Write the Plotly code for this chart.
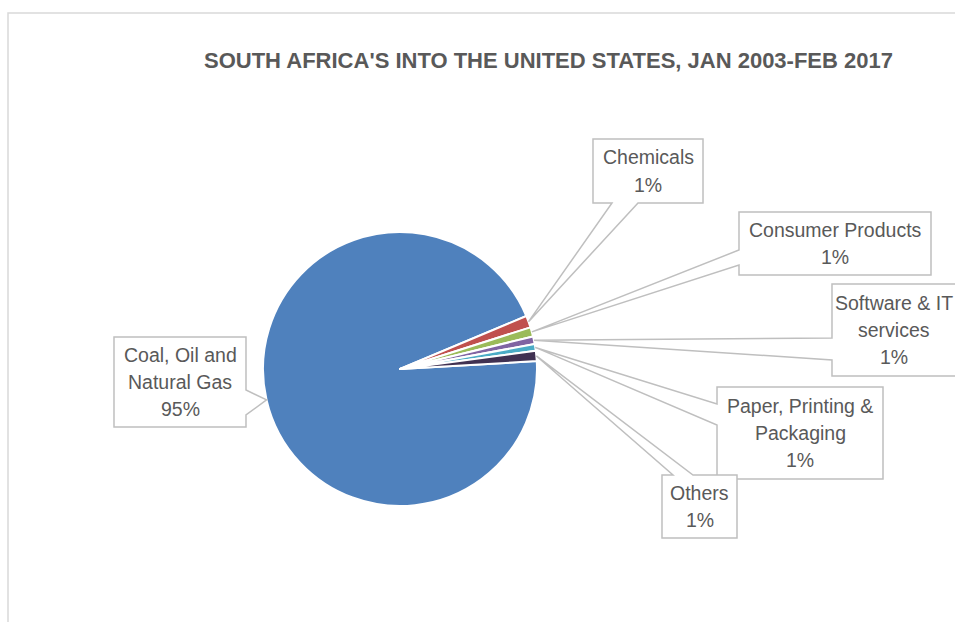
import math
import plotly.graph_objects as go

# Sector shares of South Africa's investment into the United States (%)
sectors = ["Coal, Oil and Natural Gas", "Chemicals", "Consumer Products",
           "Software & IT services", "Paper, Printing & Packaging", "Others"]
shares = [94.6, 1.4, 1.1, 0.9, 0.8, 1.2]
label_lines = [["Coal, Oil and", "Natural Gas"], ["Chemicals"], ["Consumer Products"],
               ["Software & IT", "services"], ["Paper, Printing &", "Packaging"], ["Others"]]
colors = ["#4F81BD", "#C0504D", "#9BBB59", "#8064A2", "#4BACC6", "#403152"]
title = "SOUTH AFRICA'S INTO THE UNITED STATES, JAN 2003-FEB 2017"

# Canvas / layout geometry (pixels)
W, H = 955, 622
CX, CY, R = 400, 369, 137          # pie centre and radius
ROTATION = 86.7                    # start angle of first slice, clockwise from 12 o'clock
TEXT = "#595959"
EDGE = "#BFBFBF"
FONT = "Liberation Sans, Arial, sans-serif"
LINE_GAP = 27                      # label line spacing

# callout boxes: (x0, y0, x1, y1), side carrying the pointer, pointer base span,
# horizontal centre of the text
callouts = [
    ((114, 337, 246, 427), "right", (390, 415), 180),
    ((593, 139, 703, 203), "bottom", (612, 638), 648),
    ((739, 212, 931, 275), "left", (250, 265), 835),
    ((832, 284, 970, 376), "left", (338, 360), 894),
    ((717, 387, 883, 479), "left", (404, 425), 800),
    ((662, 475, 737, 538), "top", (673, 693), 699.5),
]


def px(x):
    return x / W


def py(y):
    return 1 - y / H


def slice_tips():
    total = sum(shares)
    tips, start = [], ROTATION
    for v in shares:
        span = 360 * v / total
        mid = math.radians(start + span / 2)
        tips.append((CX + R * math.sin(mid), CY - R * math.cos(mid)))
        start += span
    return tips


def callout_path(box, side, base, tip):
    x0, y0, x1, y1 = box
    b0, b1 = base
    if side == "left":
        pts = [(x0, y0), (x1, y0), (x1, y1), (x0, y1), (x0, b1), tip, (x0, b0)]
    elif side == "right":
        pts = [(x0, y0), (x1, y0), (x1, b0), tip, (x1, b1), (x1, y1), (x0, y1)]
    elif side == "bottom":
        pts = [(x0, y0), (x1, y0), (x1, y1), (b1, y1), tip, (b0, y1), (x0, y1)]
    else:
        pts = [(x0, y0), (b0, y0), tip, (b1, y0), (x1, y0), (x1, y1), (x0, y1)]
    return "M " + " L ".join(f"{px(a):.5f},{py(b):.5f}" for a, b in pts) + " Z"


fig = go.Figure(go.Pie(
    labels=sectors,
    values=shares,
    sort=False,
    direction="clockwise",
    rotation=ROTATION,
    marker=dict(colors=colors, line=dict(color="white", width=2)),
    textinfo="none",
    hoverinfo="label+percent",
    showlegend=False,
    domain=dict(x=[px(CX - R), px(CX + R)], y=[py(CY + R), py(CY - R)]),
))

shapes = [dict(type="rect", xref="paper", yref="paper",
               x0=px(8), x1=px(W + 20), y0=py(H + 20), y1=py(13),
               line=dict(color="#D9D9D9", width=1.5), fillcolor="rgba(0,0,0,0)",
               layer="below")]
annotations = []
total = sum(shares)
for (box, side, base, tx), tip, lines, v in zip(callouts, slice_tips(), label_lines, shares):
    shapes.append(dict(type="path", xref="paper", yref="paper",
                       path=callout_path(box, side, base, tip),
                       fillcolor="white", line=dict(color=EDGE, width=1.5),
                       layer="above"))
    rows = lines + [f"{round(100 * v / total)}%"]
    x0, y0, x1, y1 = box
    mid_y = (y0 + y1) / 2
    for i, row in enumerate(rows):
        ty = mid_y + (i - (len(rows) - 1) / 2) * LINE_GAP
        annotations.append(dict(
            x=px(tx), y=py(ty), xref="paper", yref="paper",
            text=row, showarrow=False,
            xanchor="center", yanchor="middle", align="center",
            font=dict(family=FONT, size=19.5, color=TEXT),
        ))

annotations.append(dict(
    x=px(548.5), y=py(60), xref="paper", yref="paper",
    text=f"<b>{title}</b>", showarrow=False, xanchor="center", yanchor="middle",
    font=dict(family=FONT, size=22, color=TEXT),
))

fig.update_layout(
    width=W, height=H,
    margin=dict(l=0, r=0, t=0, b=0),
    paper_bgcolor="white", plot_bgcolor="white",
    shapes=shapes, annotations=annotations,
)

fig.write_html("out.html")
